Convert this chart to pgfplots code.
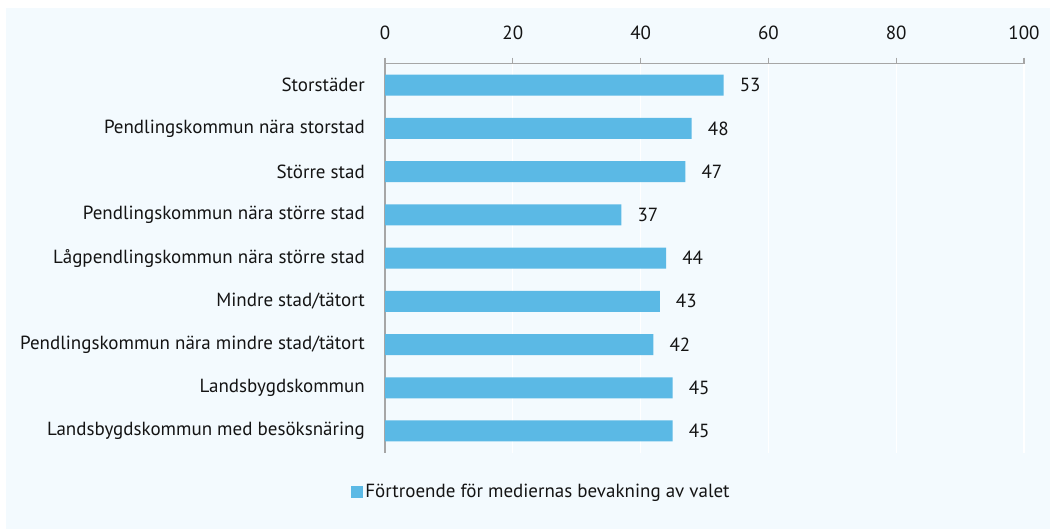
\documentclass[border=0pt]{standalone}
\usepackage{pgfplots}
\pgfplotsset{compat=1.18}
\usepackage{fontspec}
\setmainfont{PT Sans}
\definecolor{barcol}{RGB}{91,185,229}
\definecolor{bgcol}{RGB}{243,250,254}
\definecolor{axcol}{RGB}{166,166,166}
\definecolor{txt}{RGB}{20,20,20}
\begin{document}
\begin{tikzpicture}[x=1bp,y=1bp]
\fill[white] (0,0) rectangle (1050,530);
\fill[bgcol] (6,1) rectangle (1050,522);
\begin{axis}[
  at={(385bp,77.4bp)}, anchor=south west,
  scale only axis, width=639bp, height=389bp,
  xbar, bar width=21bp,
  xmin=0, xmax=100,
  ymin=-0.5, ymax=8.5, y dir=reverse,
  axis x line*=top, axis y line*=left,
  x axis line style={-, draw=axcol, line width=1.2bp},
  y axis line style={-, draw=axcol, line width=1.2bp},
  xtick={0,20,40,60,80,100},
  ytick={0,...,8},
  yticklabels={Storstäder,Pendlingskommun nära storstad,Större stad,Pendlingskommun nära större stad,Lågpendlingskommun nära större stad,Mindre stad/tätort,Pendlingskommun nära mindre stad/tätort,Landsbygdskommun,Landsbygdskommun med besöksnäring},
  tick align=outside,
  major tick length=6bp,
  xtick style={draw=axcol, line width=1.2bp},
  ytick style={draw=none},
  xmajorgrids, major grid style={white, line width=1.2bp},
  /pgf/number format/assume math mode=true,
  tick label style={font=\fontsize{19bp}{22bp}\selectfont, text=txt},
  yticklabel style={inner sep=0pt, xshift=-14bp},
  xticklabel style={inner sep=0pt, yshift=18bp},
  nodes near coords,
  nodes near coords style={font=\fontsize{19bp}{22bp}\selectfont, text=txt, anchor=west, inner sep=0pt, xshift=16bp},
  legend style={at={(0.245,-0.101)}, anchor=center, draw=none, fill=none, font=\fontsize{19bp}{22bp}\selectfont, text=txt, legend cell align=left, inner sep=0pt},
  legend image code/.code={\fill[barcol] (-2bp,-6bp) rectangle (10bp,6bp);},
]
\addplot[fill=barcol, draw=none] coordinates {(53,0) (48,1) (47,2) (37,3) (44,4) (43,5) (42,6) (45,7) (45,8)};
\addlegendentry{Förtroende för mediernas bevakning av valet}
\end{axis}
\end{tikzpicture}
\end{document}
